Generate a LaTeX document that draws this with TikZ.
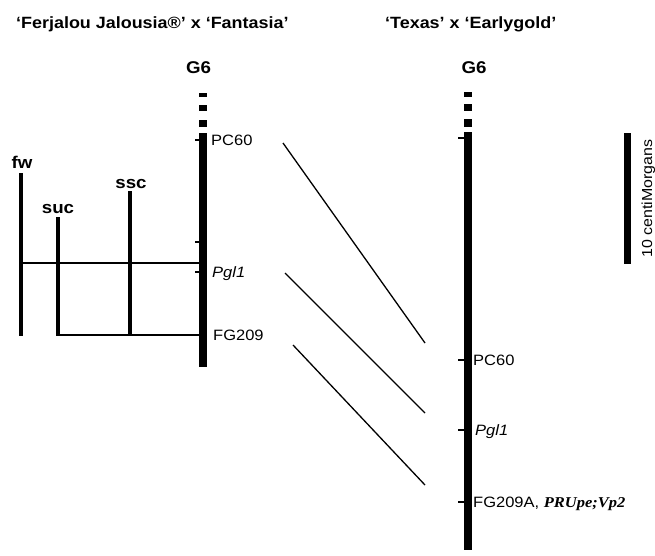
\documentclass[tikz,border=0pt]{standalone}
\usepackage{fontspec}
\setmainfont{Liberation Sans}[FakeStretch=1.1]
\newfontfamily\timesbi{Liberation Serif}[FakeStretch=1.1]
\begin{document}
\begin{tikzpicture}[x=1pt,y=-1pt,
  chrom/.style={line width=8pt},
  qtlbar/.style={line width=4.6pt},
  joinline/.style={line width=2.2pt},
  tickmark/.style={line width=1.4pt},
  linkline/.style={line width=1.3pt},
  scalebar/.style={line width=7pt},
  heading/.style={font=\bfseries\fontsize{16.3}{19}\selectfont, anchor=base west, inner sep=0pt},
  lgname/.style={font=\bfseries\fontsize{17}{20}\selectfont, anchor=base, inner sep=0pt},
  traitname/.style={font=\bfseries\fontsize{17}{20}\selectfont, anchor=base, inner sep=0pt},
  marker/.style={font=\fontsize{15}{18}\selectfont, anchor=base west, inner sep=0pt},
  dashbox/.style={fill=black, draw=none}
]
\useasboundingbox (0,0) rectangle (655,555);

% ---- headings
\node[heading] (titleL) at (16,28.5) {‘Ferjalou Jalousia®’ x ‘Fantasia’};
\node[heading] (titleR) at (385,28.5) {‘Texas’ x ‘Earlygold’};
\node[lgname] (g6L) at (198.5,73) {G6};
\node[lgname] (g6R) at (474,73) {G6};

% ---- left linkage group
\fill[dashbox] (199,93) rectangle (207,97);
\fill[dashbox] (199,105) rectangle (207,111);
\fill[dashbox] (199,120) rectangle (207,127);
\coordinate (Ltop) at (203,133);
\coordinate (Lbot) at (203,367);
\draw[chrom] (Ltop) -- (Lbot);
\coordinate (LtPC) at (195,140);
\coordinate (LtX) at (195,242);
\coordinate (LtPgl) at (195,272);
\draw[tickmark] (LtPC) -- (Ltop |- LtPC);
\draw[tickmark] (LtX) -- (Ltop |- LtX);
\draw[tickmark] (LtPgl) -- (Ltop |- LtPgl);
\node[marker] (mPC60L) at (211,145.5) {PC60};
\node[marker] (mPglL) at (212,277) {\itshape Pgl1};
\node[marker] (mFGL) at (213,340.5) {FG209};

% ---- QTL bars
\coordinate (fwT) at (21,173);   \coordinate (fwB) at (21,336);
\coordinate (sucT) at (58,217);  \coordinate (sucB) at (58,336);
\coordinate (sscT) at (130,191); \coordinate (sscB) at (130,336);
\draw[qtlbar] (fwT) -- (fwB);
\draw[qtlbar] (sucT) -- (sucB);
\draw[qtlbar] (sscT) -- (sscB);
\node[traitname] (fw) at (22,168) {fw};
\node[traitname] (suc) at (58,213) {suc};
\node[traitname] (ssc) at (131,188) {ssc};
\coordinate (jA) at (21,263);
\coordinate (jB) at (58,335);
\draw[joinline] (jA) -- (199,263);
\draw[joinline] (jB) -- (199,335);

% ---- right linkage group
\fill[dashbox] (463.5,92) rectangle (471.5,97);
\fill[dashbox] (463.5,104) rectangle (471.5,111);
\fill[dashbox] (463.5,119) rectangle (471.5,127);
\coordinate (Rtop) at (467.5,132);
\coordinate (Rbot) at (467.5,550);
\draw[chrom] (Rtop) -- (Rbot);
\coordinate (RtTop) at (458,138);
\coordinate (RtPC) at (458,360);
\coordinate (RtPgl) at (458,430);
\coordinate (RtFG) at (458,502);
\foreach \t in {RtTop,RtPC,RtPgl,RtFG}
  \draw[tickmark] (\t) -- (Rtop |- \t);
\node[marker] (mPC60R) at (473,365.5) {PC60};
\node[marker] (mPglR) at (475,435.5) {\itshape Pgl1};
\node[marker] (mFGR) at (473,507.5) {FG209A, {\timesbi\bfseries\itshape PRUpe;Vp2}};

% ---- links between the two maps
\coordinate (a1) at (283,143); \coordinate (b1) at (425,343);
\coordinate (a2) at (285,273); \coordinate (b2) at (425,413);
\coordinate (a3) at (293,345); \coordinate (b3) at (425,485);
\draw[linkline] (a1) -- (b1);
\draw[linkline] (a2) -- (b2);
\draw[linkline] (a3) -- (b3);

% ---- scale bar
\coordinate (sT) at (627,133);
\coordinate (sB) at (627,264);
\draw[scalebar] (sT) -- (sB);
\node[font=\fontsize{14.5}{17}\selectfont, rotate=90, anchor=base, inner sep=0pt] (scaletext) at (652,198.5) {10 centiMorgans};
\end{tikzpicture}
\end{document}
